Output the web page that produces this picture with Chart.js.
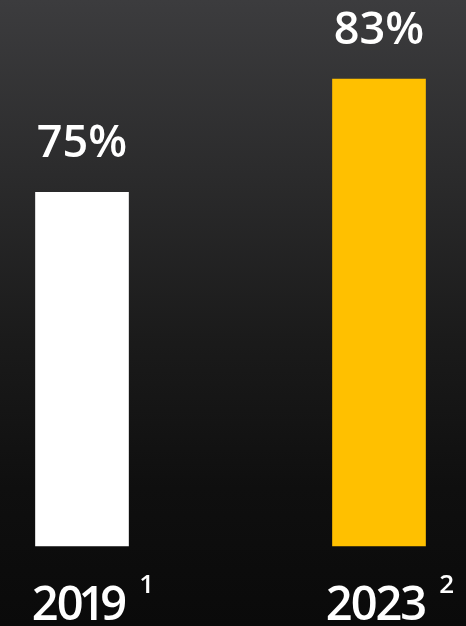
<!DOCTYPE html>
<html>
<head>
<meta charset="utf-8">
<script src="https://cdn.jsdelivr.net/npm/chart.js@4/dist/chart.umd.min.js"></script>
<style>
  html, body { margin: 0; padding: 0; background: #0a0a0a; }
  body { width: 466px; height: 626px; overflow: hidden; }
  #wrap { width: 466px; height: 626px; position: relative;
    background: linear-gradient(to bottom, #3c3c3e 0%, #2b2b2c 28%, #1a1a1a 55%, #0f0f0f 78%, #0a0a0a 100%); }
</style>
</head>
<body>
<div id="wrap"><canvas id="c" width="466" height="626"></canvas></div>
<script>
const categories = ["2019", "2023"];
const footnotes = ["1", "2"];
const values = [75, 83];
const valueLabels = ["75%", "83%"];
const barColors = ["#ffffff", "#ffc000"];

const FONT = '"Open Sans", "Noto Sans", sans-serif';

// lay out text with proportional-looking digits
function layoutText(ctx, text, spacing) {
  let pos = 0; const xs = [];
  for (let i = 0; i < text.length; i++) {
    const ch = text[i];
    const adv = ctx.measureText(ch).width;
    const pad = ch === '1' ? -3 : 0;
    pos += pad; xs.push(pos); pos += adv + pad;
    if (i < text.length - 1) pos += spacing;
  }
  return { xs, width: pos };
}

const labelPlugin = {
  id: 'labels',
  afterDatasetsDraw(chart) {
    const ctx = chart.ctx;
    const meta = chart.getDatasetMeta(0);
    const x = chart.scales.x, y = chart.scales.y;
    ctx.save();
    ctx.fillStyle = '#ffffff';
    ctx.textAlign = 'left';
    ctx.textBaseline = 'alphabetic';
    meta.data.forEach((bar, i) => {
      const cx = x.getPixelForValue(i);
      const top = y.getPixelForValue(values[i]);
      ctx.font = '600 45px ' + FONT;
      const vw = ctx.measureText(valueLabels[i]).width;
      ctx.fillText(valueLabels[i], cx - vw / 2, top - 35);

      const bottom = y.getPixelForValue(y.min);
      ctx.font = '600 47px ' + FONT;
      const lay = layoutText(ctx, categories[i], -2);
      const left = cx - 2.5 - lay.width / 2;
      for (let k = 0; k < categories[i].length; k++) {
        ctx.fillText(categories[i][k], left + lay.xs[k], bottom + 74);
      }
      ctx.font = '600 26px ' + FONT;
      ctx.fillText(footnotes[i], left + lay.width + 12, bottom + 47);
    });
    ctx.restore();
  }
};

new Chart(document.getElementById('c'), {
  type: 'bar',
  data: {
    labels: categories,
    datasets: [{
      data: values,
      base: 50,
      backgroundColor: barColors,
      borderWidth: 0,
      barThickness: 93,
      clip: false
    }]
  },
  options: {
    responsive: false,
    animation: false,
    layout: { padding: { left: 82, right: 87, top: 79, bottom: 80 } },
    plugins: { legend: { display: false }, tooltip: { enabled: false } },
    scales: {
      x: { display: false, offset: false, grid: { display: false } },
      y: { display: false, min: 50, max: 83, grid: { display: false } }
    }
  },
  plugins: [labelPlugin]
});
</script>
</body>
</html>
